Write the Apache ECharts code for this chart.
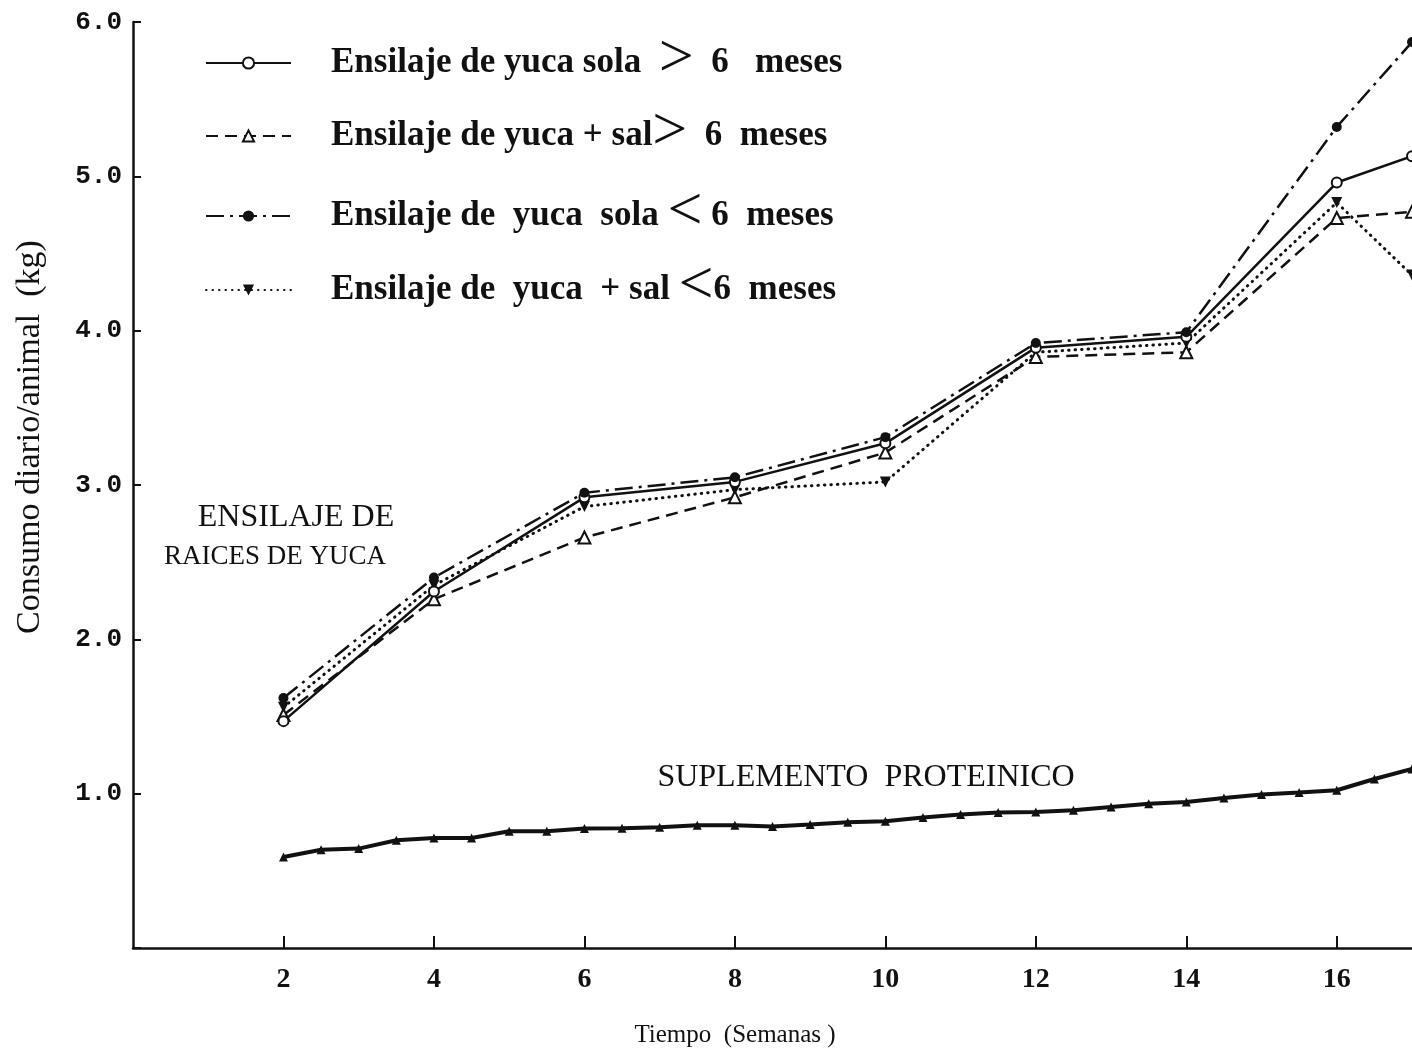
<!DOCTYPE html>
<html>
<head>
<meta charset="utf-8">
<script src="https://cdn.jsdelivr.net/npm/echarts@6/dist/echarts.min.js"></script>
<style>
html,body{margin:0;padding:0;background:#fff;}
#chart{width:1412px;height:1052px;}
</style>
</head>
<body>
<div id="chart"></div>
<script>
// ---- data ----
var weeks = [2, 4, 6, 8, 10, 12, 14, 16, 17];
var solaMayor = [1.47, 2.31, 2.92, 3.02, 3.27, 3.89, 3.96, 4.96, 5.13];   // Ensilaje de yuca sola > 6 meses
var salMayor  = [1.51, 2.26, 2.66, 2.92, 3.21, 3.83, 3.86, 4.73, 4.77];   // Ensilaje de yuca + sal > 6 meses
var solaMenor = [1.62, 2.40, 2.95, 3.05, 3.31, 3.92, 3.99, 5.32, 5.87];   // Ensilaje de yuca sola < 6 meses
var salMenor  = [1.56, 2.35, 2.86, 2.97, 3.02, 3.86, 3.92, 4.83, 4.36];   // Ensilaje de yuca + sal < 6 meses

var suppWeeks = [2, 2.5, 3, 3.5, 4, 4.5, 5, 5.5, 6, 6.5, 7, 7.5, 8, 8.5, 9, 9.5, 10, 10.5, 11, 11.5, 12, 12.5, 13, 13.5, 14, 14.5, 15, 15.5, 16, 16.5, 17];
var suppValues = [0.59, 0.637, 0.644, 0.698, 0.713, 0.713, 0.756, 0.756, 0.774, 0.776, 0.782, 0.795, 0.795, 0.788, 0.80, 0.815, 0.822, 0.845, 0.865, 0.878, 0.882, 0.893, 0.914, 0.935, 0.946, 0.972, 0.995, 1.008, 1.022, 1.095, 1.16];

var seriesNames = [
  'Ensilaje de yuca sola > 6 meses',
  'Ensilaje de yuca + sal > 6 meses',
  'Ensilaje de yuca sola < 6 meses',
  'Ensilaje de yuca + sal < 6 meses'
];
var legendLabels = [
  'Ensilaje de yuca sola  {g|>}  6   meses',
  'Ensilaje de yuca + sal{g|>}  6  meses',
  'Ensilaje de  yuca  sola {g|<} 6  meses',
  'Ensilaje de  yuca  + sal {g|<}6  meses'
];
var yTicks = [1, 2, 3, 4, 5, 6];
var xTickLabels = [2, 4, 6, 8, 10, 12, 14, 16];

var textLabels = {
  ensilaje1: 'ENSILAJE DE',
  ensilaje2: 'RAICES DE YUCA',
  suplemento: 'SUPLEMENTO  PROTEINICO',
  xName: 'Tiempo  (Semanas )',
  yName: 'Consumo diario/animal  (kg)'
};

function pairs(xs, ys) { return xs.map(function (x, i) { return [x, ys[i]]; }); }

var INK = '#111';
var serif = '"Liberation Serif", "DejaVu Serif", serif';

var legendRows = [62, 135, 215, 289];
var legends = seriesNames.map(function (n, i) {
  return {
    data: [n],
    left: 205,
    top: legendRows[i] - 33,
    padding: 0,
    itemWidth: 85,
    itemHeight: 14,
    selectedMode: false,
    formatter: function () { return legendLabels[i]; },
    textStyle: {
      color: INK,
      fontFamily: serif,
      fontWeight: 'bold',
      fontSize: 35,
      lineHeight: 50,
      padding: [0, 0, 0, 35],
      rich: {
        g: { fontFamily: serif, fontWeight: 'normal', fontSize: 62, lineHeight: 50, color: INK, padding: [0, 0, 6, 0] }
      }
    }
  };
});

var chart = echarts.init(document.getElementById('chart'), null, { renderer: 'canvas' });

var option = {
  backgroundColor: '#ffffff',
  animation: false,
  legend: legends,
  grid: { left: 133, right: 0, top: 22, bottom: 104, containLabel: false },
  xAxis: {
    type: 'value',
    min: 0, max: 17, interval: 2,
    axisLine: { show: true, lineStyle: { color: INK, width: 2.5 } },
    axisTick: { show: true, inside: true, length: 12, customValues: xTickLabels, lineStyle: { color: INK, width: 2 } },
    splitLine: { show: false },
    axisLabel: {
      margin: 18,
      color: INK,
      fontFamily: serif,
      fontWeight: 'bold',
      fontSize: 28,
      customValues: xTickLabels,
      formatter: function (v) { return xTickLabels.indexOf(v) >= 0 ? String(v) : ''; }
    }
  },
  yAxis: {
    type: 'value',
    min: 0, max: 6, interval: 1,
    axisLine: { show: true, lineStyle: { color: INK, width: 2.5 } },
    axisTick: { show: true, inside: true, length: 8, lineStyle: { color: INK, width: 2 } },
    splitLine: { show: false },
    axisLabel: {
      margin: 11,
      color: INK,
      fontFamily: '"Liberation Mono", "DejaVu Sans Mono", monospace',
      fontWeight: 'bold',
      fontSize: 26,
      formatter: function (v) { return yTicks.indexOf(v) >= 0 ? v.toFixed(1) : ''; }
    }
  },
  graphic: [
    { type: 'text', x: 296, y: 518, style: { text: textLabels.ensilaje1, fill: INK, font: '32px ' + serif, textAlign: 'center', textVerticalAlign: 'middle' } },
    { type: 'text', x: 275, y: 557, style: { text: textLabels.ensilaje2, fill: INK, font: '27px ' + serif, textAlign: 'center', textVerticalAlign: 'middle' } },
    { type: 'text', x: 866, y: 778, style: { text: textLabels.suplemento, fill: INK, font: '32px ' + serif, textAlign: 'center', textVerticalAlign: 'middle' } },
    { type: 'text', x: 735, y: 1035, style: { text: textLabels.xName, fill: INK, font: '25px ' + serif, textAlign: 'center', textVerticalAlign: 'middle' } },
    { type: 'text', x: 30, y: 437, rotation: Math.PI / 2, style: { text: textLabels.yName, fill: INK, font: '34px ' + serif, textAlign: 'center', textVerticalAlign: 'middle' } }
  ],
  series: [
    {
      name: seriesNames[0], type: 'line', data: pairs(weeks, solaMayor),
      symbol: 'emptyCircle', symbolSize: 10,
      lineStyle: { color: INK, width: 2.5, type: 'solid' },
      itemStyle: { color: INK, borderWidth: 2 }, z: 5
    },
    {
      name: seriesNames[1], type: 'line', data: pairs(weeks, salMayor),
      symbol: 'emptyTriangle', symbolSize: 12,
      lineStyle: { color: INK, width: 2.5, type: [12, 7] },
      itemStyle: { color: INK, borderWidth: 2 }, z: 4
    },
    {
      name: seriesNames[2], type: 'line', data: pairs(weeks, solaMenor),
      symbol: 'circle', symbolSize: 10,
      lineStyle: { color: INK, width: 2.5, type: [18, 6, 3, 6] },
      itemStyle: { color: INK }, z: 6
    },
    {
      name: seriesNames[3], type: 'line', data: pairs(weeks, salMenor),
      symbol: 'triangle', symbolSize: 11, symbolRotate: 180,
      lineStyle: { color: INK, width: 3, type: [0.5, 6], cap: 'round' },
      itemStyle: { color: INK }, z: 3
    },
    {
      name: 'Suplemento proteinico', type: 'line', data: pairs(suppWeeks, suppValues),
      symbol: 'triangle', symbolSize: 9,
      lineStyle: { color: INK, width: 4 },
      itemStyle: { color: INK }, z: 2
    }
  ]
};
chart.setOption(option);
</script>
</body>
</html>
